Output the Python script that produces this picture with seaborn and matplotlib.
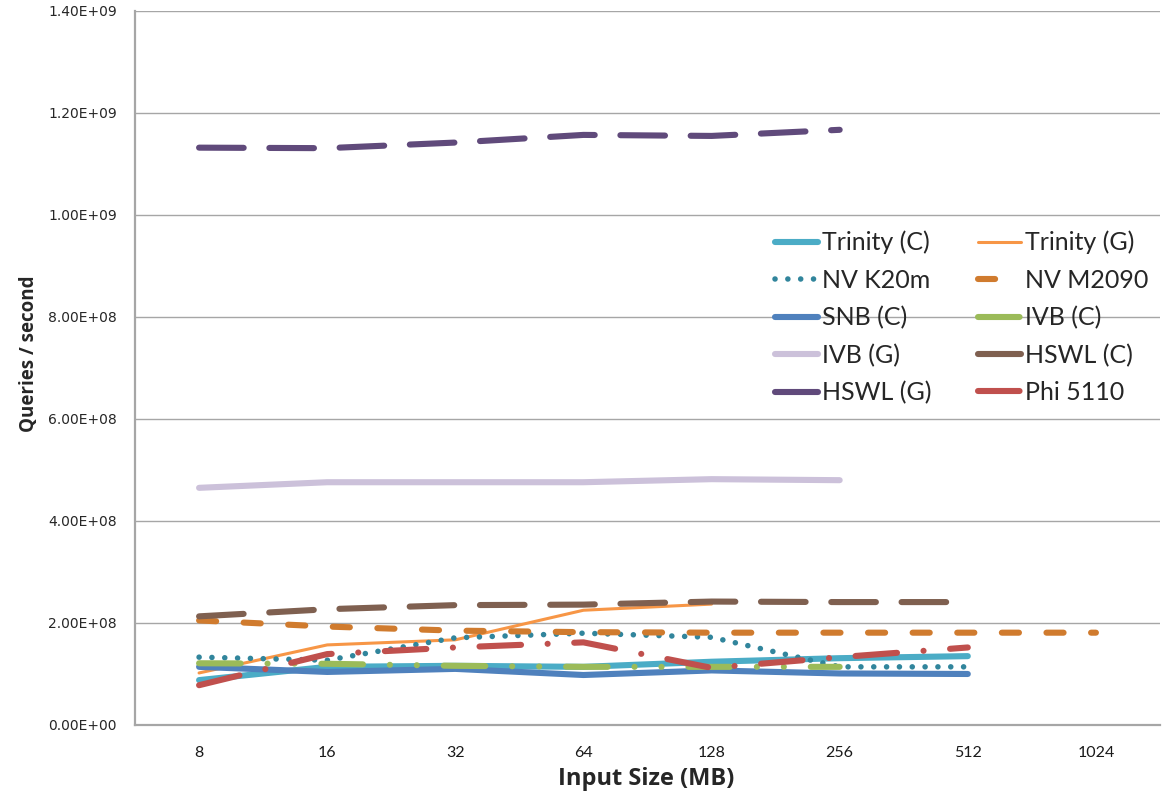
import matplotlib
matplotlib.use("Agg")
import matplotlib.pyplot as plt
from matplotlib.ticker import FuncFormatter, FixedLocator
import numpy as np
import pandas as pd
import seaborn as sns

# Input sizes (MB) on a categorical x axis
sizes = ["8", "16", "32", "64", "128", "256", "512", "1024"]

nan = np.nan
trinity_c = [0.88e8, 1.14e8, 1.16e8, 1.14e8, 1.24e8, 1.31e8, 1.35e8, nan]
trinity_g = [1.02e8, 1.57e8, 1.67e8, 2.25e8, 2.37e8, nan, nan, nan]
nv_k20m   = [1.33e8, 1.27e8, 1.71e8, 1.80e8, 1.72e8, 1.14e8, 1.14e8, nan]
nv_m2090  = [2.05e8, 1.93e8, 1.85e8, 1.82e8, 1.81e8, 1.81e8, 1.81e8, 1.81e8]
snb_c     = [1.14e8, 1.04e8, 1.10e8, 0.98e8, 1.07e8, 1.01e8, 1.00e8, nan]
ivb_c     = [1.21e8, 1.20e8, 1.16e8, 1.14e8, 1.14e8, 1.14e8, nan, nan]
ivb_g     = [4.65e8, 4.76e8, 4.76e8, 4.76e8, 4.82e8, 4.80e8, nan, nan]
hswl_c    = [2.13e8, 2.27e8, 2.35e8, 2.36e8, 2.42e8, 2.41e8, 2.41e8, nan]
hswl_g    = [1.132e9, 1.131e9, 1.142e9, 1.157e9, 1.155e9, 1.167e9, nan, nan]
phi_5110  = [0.78e8, 1.39e8, 1.52e8, 1.62e8, 1.12e8, 1.33e8, 1.52e8, nan]

series_names = ["Trinity (C)", "Trinity (G)", "NV K20m", "NV M2090", "SNB (C)",
                "IVB (C)", "IVB (G)", "HSWL (C)", "HSWL (G)", "Phi 5110"]
series_values = [trinity_c, trinity_g, nv_k20m, nv_m2090, snb_c,
                 ivb_c, ivb_g, hswl_c, hswl_g, phi_5110]

# Styling per series: colour, width (pt), dash pattern
styles = {
    "Trinity (C)": dict(color="#4bacc6", lw=4.4, ls="-"),
    "Trinity (G)": dict(color="#f79646", lw=2.2, ls="-"),
    "NV K20m":     dict(color="#31859c", lw=4.0, ls=(0, (0.01, 2.3))),
    "NV M2090":    dict(color="#d07b2e", lw=4.4, ls=(0, (2.8, 4.5))),
    "SNB (C)":     dict(color="#4f81bd", lw=4.4, ls="-"),
    "IVB (C)":     dict(color="#9bbb59", lw=4.4, ls=(0, (6.8, 4.4, 0.01, 4.4, 0.01, 4.4))),
    "IVB (G)":     dict(color="#ccc1da", lw=4.4, ls="-"),
    "HSWL (C)":    dict(color="#7f6050", lw=4.4, ls=(0, (7.3, 4.2))),
    "HSWL (G)":    dict(color="#604a7b", lw=4.4, ls=(0, (7.3, 4.2))),
    "Phi 5110":    dict(color="#c0504d", lw=4.4, ls=(0, (6.8, 4.35, 0.01, 4.35))),
}

rows = []
for name, vals in zip(series_names, series_values):
    for i, v in enumerate(vals):
        rows.append({"series": name, "pos": i, "value": v})
df = pd.DataFrame(rows).dropna()

sns.set_style("white")
plt.rcParams["font.family"] = ["DejaVu Sans"]

fig = plt.figure(figsize=(11.73, 8.01), dpi=100)
ax = fig.add_axes([0.1151, 0.0949, 0.8738, 0.8914])

handles = {}
for name in series_names:
    st = styles[name]
    sub = df[df["series"] == name]
    sns.lineplot(data=sub, x="pos", y="value", ax=ax, color=st["color"],
                 linewidth=st["lw"], linestyle=st["ls"], label=name,
                 dash_capstyle="round", solid_capstyle="round",
                 solid_joinstyle="round", errorbar=None, sort=True)
    handles[name] = ax.get_lines()[-1]

ax.set_xlim(-0.5, len(sizes) - 0.5)
ax.set_ylim(0, 1.4e9)

# y axis: scientific labels, gridlines
ax.set_yticks(np.arange(0, 1.41e9, 2e8))
ax.yaxis.set_major_formatter(FuncFormatter(lambda v, p: f"{v:.2E}"))
ax.grid(axis="y", color="#a6a6a6", linewidth=1.0)
ax.grid(axis="x", visible=False)
ax.set_axisbelow(True)

# x axis: labels at category centres, tick marks on category boundaries
ax.set_xticks(range(len(sizes)))
ax.set_xticklabels(sizes, family=["Lato", "DejaVu Sans"], fontsize=11.5)
ax.xaxis.set_minor_locator(FixedLocator(np.arange(-0.5, len(sizes), 1.0)))
ax.tick_params(axis="x", which="major", length=0, pad=15, labelcolor="#1a1a1a")
ax.tick_params(axis="x", which="minor", length=7, width=1.3, color="#a6a6a6", direction="out")
ax.tick_params(axis="y", which="major", length=6, width=1.3, color="#a6a6a6",
               direction="out", pad=7, labelsize=10, labelcolor="#262626")

for side in ["top", "right"]:
    ax.spines[side].set_visible(False)
for side in ["left", "bottom"]:
    ax.spines[side].set_color("#a6a6a6")
    ax.spines[side].set_linewidth(1.6)

ax.set_xlabel("Input Size (MB)", fontsize=17, fontweight="bold",
              family=["Open Sans", "DejaVu Sans"])
ax.set_ylabel("Queries / second", fontsize=13.5, fontweight="bold",
              family=["Open Sans", "DejaVu Sans"])
ax.xaxis.set_label_coords(0.4985, -0.0595)
ax.yaxis.set_label_coords(-0.0935, 0.52)

# legend laid out row-wise in two columns
order = ["Trinity (C)", "NV K20m", "SNB (C)", "IVB (G)", "HSWL (G)",
         "Trinity (G)", "NV M2090", "IVB (C)", "HSWL (C)", "Phi 5110"]
ax.legend([handles[n] for n in order], order, ncol=2, loc="upper left",
          bbox_to_anchor=(0.624, 0.692), frameon=False,
          prop={"family": ["Lato", "DejaVu Sans"], "size": 18},
          handlelength=1.72, handletextpad=0.17, columnspacing=1.85,
          labelspacing=0.57, borderpad=0, borderaxespad=0)

fig.savefig("out.png", dpi=100)
